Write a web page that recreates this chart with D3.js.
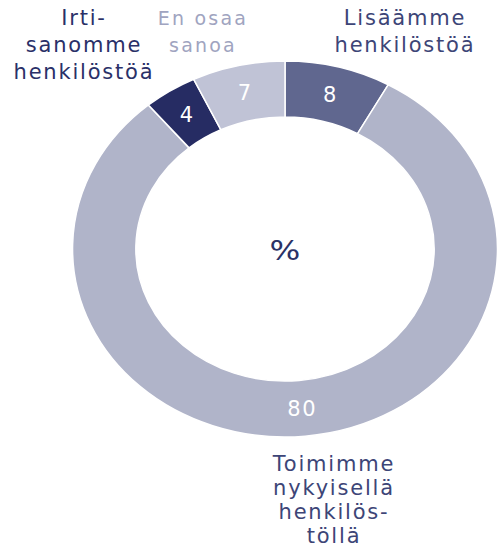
<!DOCTYPE html>
<html>
<head>
<meta charset="utf-8">
<script src="https://cdn.jsdelivr.net/npm/d3@7"></script>
<style>
  body { margin: 0; background: #fff; }
  text { font-family: "DejaVu Sans", Verdana, sans-serif; }
</style>
</head>
<body>
<svg id="chart" width="497" height="552"></svg>
<script>
// data, in the order the slices go round clockwise from 12 o'clock
var categories = ["Lisäämme henkilöstöä", "Toimimme nykyisellä henkilöstöllä", "Irtisanomme henkilöstöä", "En osaa sanoa"];
var values = [8, 80, 4, 7];
var colors = ["#60678f", "#b0b4c9", "#262c63", "#c0c3d6"];

// outside labels, one array of lines per category
var labelLines = [
    ["Lisäämme", "henkilöstöä"],
    ["Toimimme", "nykyisellä", "henkilös-", "töllä"],
    ["Irti-", "sanomme", "henkilöstöä"],
    ["En osaa", "sanoa"]
];

var svg = d3.select("#chart");

// the donut in the picture is a bit wider than tall
var cx = 285, cy = 249, sx = 1.13;
var rIn = 132, rOut = 188;

var pie = d3.pie().sort(null).value(function(d) { return d; });
var arcs = pie(values);

var arc = d3.arc().innerRadius(rIn).outerRadius(rOut);
var labelArc = d3.arc().innerRadius(160).outerRadius(160);

var g = svg.append("g")
    .attr("transform", "translate(" + cx + "," + cy + ") scale(" + sx + ",1)");

g.selectAll("path")
    .data(arcs)
    .enter().append("path")
    .attr("d", arc)
    .attr("fill", function(d, i) { return colors[i]; })
    .attr("stroke", "#fff")
    .attr("stroke-width", 1.5)
    .attr("vector-effect", "non-scaling-stroke");

// value labels, not stretched
svg.selectAll("text.val")
    .data(arcs)
    .enter().append("text")
    .attr("class", "val")
    .attr("x", function(d) { return cx + labelArc.centroid(d)[0] * sx; })
    .attr("y", function(d) { return cy + labelArc.centroid(d)[1]; })
    .attr("dy", "0.36em")
    .attr("text-anchor", "middle")
    .attr("fill", "#fff")
    .style("font-size", "21px")
    .style("letter-spacing", "1.5px")
    .text(function(d) { return d.data; });

// centre unit
svg.append("text")
    .attr("transform", "translate(" + cx + ",260) scale(1.2,1)")
    .attr("text-anchor", "middle")
    .attr("fill", "#2b3266")
    .style("font-size", "27px")
    .text("%");

// outside category labels
var labelPos = [
    {x: 405, y: 25, lh: 27, size: 21, ls: 1.8, color: "#3d4577"},
    {x: 334, y: 471, lh: 24, size: 21, ls: 1.8, color: "#3d4577"},
    {x: 84, y: 25, lh: 27, size: 21, ls: 1.8, color: "#2a3068"},
    {x: 203, y: 25, lh: 27, size: 19, ls: 2.2, color: "#a0a4c0"}
];

labelLines.forEach(function(lines, i) {
    var p = labelPos[i];
    var t = svg.append("text")
        .attr("text-anchor", "middle")
        .attr("fill", p.color)
        .style("font-size", p.size + "px")
        .style("letter-spacing", p.ls + "px");
    lines.forEach(function(line, j) {
        t.append("tspan")
            .attr("x", p.x)
            .attr("y", p.y + j * p.lh)
            .text(line);
    });
});
</script>
</body>
</html>
